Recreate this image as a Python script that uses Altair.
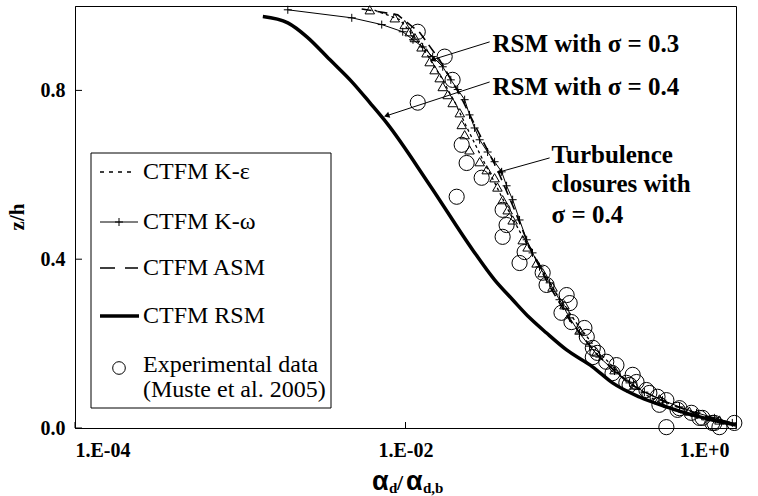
import altair as alt
import pandas as pd

# ---------------- data ----------------
# CTFM RSM (thick line)
rsm_x = [1.37e-3, 1.94e-3, 2.53e-3, 3.48e-3, 4.80e-3, 6.08e-3, 7.69e-3, 0.0140, 0.0255, 0.0346, 0.0445, 0.0564,
         0.0714, 0.0944, 0.1355, 0.179, 0.2606, 0.379, 0.544, 0.719, 1.0]
rsm_z = [0.975, 0.960, 0.927, 0.873, 0.818, 0.771, 0.723, 0.576, 0.422, 0.351, 0.304, 0.261,
         0.225, 0.185, 0.145, 0.107, 0.0735, 0.050, 0.031, 0.019, 0.007]

# CTFM K-omega (thin line with + markers)
kw_x = [1.94e-3, 4.73e-3, 7.18e-3, 9.62e-3, 0.0111, 0.0127, 0.0146, 0.0168, 0.0188, 0.0207, 0.0228, 0.0244,
        0.0262, 0.0281, 0.0314, 0.0346, 0.0382, 0.0409, 0.0445, 0.0490, 0.0541, 0.0587, 0.0647, 0.0745,
        0.0855, 0.0985, 0.113, 0.130, 0.149, 0.184, 0.227, 0.279, 0.359, 0.455, 0.577, 0.740, 0.95]
kw_z = [0.991, 0.972, 0.956, 0.939, 0.920, 0.903, 0.880, 0.856, 0.825, 0.802, 0.778, 0.742,
        0.711, 0.683, 0.654, 0.631, 0.607, 0.574, 0.541, 0.493, 0.446, 0.415, 0.382, 0.344,
        0.304, 0.261, 0.225, 0.194, 0.168, 0.135, 0.107, 0.085, 0.066, 0.050, 0.036, 0.024, 0.012]

# CTFM K-epsilon (dotted line)
ke_x = [6.5e-3, 9.2e-3, 0.0112, 0.0135, 0.0165, 0.0200, 0.0240, 0.0290, 0.0350, 0.0420, 0.0520, 0.0650,
        0.0830, 0.110, 0.148, 0.205, 0.290, 0.420, 0.620, 0.95]
ke_z = [0.990, 0.968, 0.930, 0.885, 0.830, 0.770, 0.705, 0.640, 0.578, 0.515, 0.448, 0.385,
        0.315, 0.245, 0.180, 0.122, 0.077, 0.042, 0.020, 0.008]

# CTFM ASM (dashed line)
asm_x = [5.43e-3, 8.97e-3, 0.0122, 0.0161, 0.0213, 0.0262, 0.0360, 0.0457, 0.0564, 0.0725, 0.0985, 0.145,
         0.227, 0.369, 0.601, 0.95]
asm_z = [0.993, 0.979, 0.937, 0.872, 0.790, 0.719, 0.612, 0.517, 0.427, 0.344, 0.256, 0.173,
         0.104, 0.062, 0.031, 0.012]

# triangles
tri_x = [6.08e-3, 8.61e-3, 9.89e-3, 0.0106, 0.0114, 0.0125, 0.0134, 0.0140, 0.0150, 0.0161, 0.0168, 0.0180,
         0.0193, 0.0213, 0.0219, 0.0228, 0.0244, 0.0281, 0.0310, 0.0346, 0.0360, 0.0387, 0.0415, 0.0445,
         0.0512, 0.0548, 0.0621, 0.0676, 0.0776, 0.0916, 0.113, 0.143, 0.184, 0.243, 0.344, 0.522, 0.794]
tri_z = [0.991, 0.972, 0.956, 0.939, 0.925, 0.903, 0.889, 0.868, 0.849, 0.830, 0.809, 0.790,
         0.771, 0.747, 0.719, 0.695, 0.659, 0.631, 0.612, 0.593, 0.571, 0.541, 0.517, 0.493,
         0.446, 0.429, 0.391, 0.368, 0.334, 0.292, 0.232, 0.180, 0.138, 0.102, 0.069, 0.040, 0.019]

# Experimental data (Muste et al. 2005)
exp_x = [0.01186, 0.01726, 0.01927, 0.01186, 0.02188, 0.02344, 0.0289, 0.0204, 0.0387, 0.0409, 0.0387,
         0.0526, 0.0490, 0.0676, 0.0714, 0.0944, 0.0985, 0.0879, 0.101, 0.121, 0.125, 0.136, 0.145,
         0.136, 0.164, 0.189, 0.179, 0.237, 0.250, 0.217, 0.287, 0.335, 0.379, 0.344, 0.455, 0.537,
         0.601, 0.719, 0.794, 0.977, 0.379, 0.299, 0.227, 0.443, 0.627, 0.740]
exp_z = [0.939, 0.880, 0.825, 0.771, 0.671, 0.628, 0.593, 0.548, 0.517, 0.481, 0.453,
         0.417, 0.391, 0.368, 0.339, 0.315, 0.296, 0.273, 0.251, 0.237, 0.216, 0.190, 0.178,
         0.168, 0.157, 0.149, 0.130, 0.126, 0.109, 0.107, 0.090, 0.074, 0.066, 0.055, 0.047, 0.036,
         0.024, 0.012, 0.002, 0.012, 0.002, 0.083, 0.102, 0.043, 0.024, 0.012]

x_tick_values = [1e-4, 1e-2, 1.0]
x_tick_labels = ["1.E-04", "1.E-02", "1.E+0"]
y_tick_values = [0.0, 0.4, 0.8]

legend_labels = ["CTFM K-\u03b5", "CTFM K-\u03c9", "CTFM ASM", "CTFM RSM", "Experimental data", "(Muste et al. 2005)"]

ann_texts = ["RSM with \u03c3 = 0.3", "RSM with \u03c3 = 0.4", "Turbulence", "closures with", "\u03c3 = 0.4"]
ann_x = [0.0336, 0.0336, 0.0766, 0.0766, 0.0766]
ann_z = [0.892, 0.790, 0.628, 0.560, 0.486]

arrow_x0 = [0.0323, 0.0323, 0.0745]
arrow_z0 = [0.915, 0.820, 0.640]
arrow_x1 = [0.0146, 7.69e-3, 0.0372]
arrow_z1 = [0.873, 0.740, 0.607]
arrow_angle = [252, 251, 253]

# ---------------- chart ----------------
W, H = 661, 422
SERIF = "Liberation Serif"
SANS = "Liberation Sans"
xs = alt.Scale(type="log", domain=[1e-4, 1.0])
ys = alt.Scale(domain=[0, 1], nice=False, zero=False)

expr = ""
for v, lab in zip(x_tick_values, x_tick_labels):
    expr += f"abs(datum.value - {v}) < {v * 0.01} ? '{lab}' : "
expr += "''"

xaxis = alt.Axis(values=x_tick_values, labelExpr=expr, ticks=False, tickSize=0, grid=False, title=None,
                 labelFont=SERIF, labelFontWeight="bold", labelFontSize=20, labelColor="black",
                 labelPadding=12, labelOverlap=False, domainColor="black",
                 labelOffset={"condition": {"test": "datum.value > 0.5", "value": -7}, "value": 0})
yaxis = alt.Axis(values=y_tick_values, format=".1f", ticks=False, tickSize=0, grid=False, title=None,
                 labelFont=SERIF, labelFontWeight="bold", labelFontSize=20, labelColor="black",
                 labelPadding=10, labelOverlap=False, domainColor="black")

X = alt.X("x:Q", scale=xs, axis=xaxis)
Y = alt.Y("z:Q", scale=ys, axis=yaxis)


def frame(xv, zv):
    return pd.DataFrame({"x": xv, "z": zv, "i": list(range(len(xv)))})


rsm = alt.Chart(frame(rsm_x, rsm_z)).mark_line(color="black", strokeWidth=3.5, interpolate="monotone").encode(
    X, Y, order="i:Q")
ke = alt.Chart(frame(ke_x, ke_z)).mark_line(color="black", strokeWidth=1.3, strokeDash=[3, 3]).encode(X, Y, order="i:Q")
asm = alt.Chart(frame(asm_x, asm_z)).mark_line(color="black", strokeWidth=1.6, strokeDash=[10, 6]).encode(X, Y, order="i:Q")
kw_line = alt.Chart(frame(kw_x, kw_z)).mark_line(color="black", strokeWidth=1).encode(X, Y, order="i:Q")
kw_pts = alt.Chart(frame(kw_x, kw_z)).mark_point(shape="M-1,0H1M0,-1V1", size=64, filled=False,
                                                 color="black", strokeWidth=1, opacity=1).encode(X, Y)
tri = alt.Chart(frame(tri_x, tri_z)).mark_point(shape="triangle-up", size=90, filled=False,
                                               color="black", strokeWidth=1, opacity=1).encode(X, Y)
exp = alt.Chart(frame(exp_x, exp_z)).mark_point(shape="circle", size=230, filled=False,
                                               color="black", strokeWidth=1, opacity=1).encode(X, Y)

# inward tick marks
xt = alt.Chart(pd.DataFrame({"x": x_tick_values})).mark_rule(color="black", strokeWidth=1).encode(
    x=alt.X("x:Q", scale=xs), y=alt.value(H - 6), y2=alt.value(H))
yt = alt.Chart(pd.DataFrame({"z": y_tick_values})).mark_rule(color="black", strokeWidth=1).encode(
    y=alt.Y("z:Q", scale=ys), x=alt.value(0), x2=alt.value(7))

# annotations
ann = alt.Chart(pd.DataFrame({"x": ann_x, "z": ann_z, "t": ann_texts})).mark_text(
    align="left", baseline="alphabetic", font=SERIF, fontWeight="bold", fontSize=25, color="black").encode(
    x=alt.X("x:Q", scale=xs), y=alt.Y("z:Q", scale=ys), text="t:N")
arr_df = pd.DataFrame({"x0": arrow_x0, "z0": arrow_z0, "x1": arrow_x1, "z1": arrow_z1, "a": arrow_angle})
arr_lines = alt.Chart(arr_df).mark_rule(color="black", strokeWidth=1).encode(
    x=alt.X("x0:Q", scale=xs), y=alt.Y("z0:Q", scale=ys), x2="x1:Q", y2="z1:Q")
arr_heads = alt.Chart(arr_df).mark_point(shape="triangle-up", filled=True, color="black", size=40, opacity=1).encode(
    x=alt.X("x1:Q", scale=xs), y=alt.Y("z1:Q", scale=ys), angle=alt.Angle("a:Q", scale=None))

# legend (pixel layout inside the plot)
one = pd.DataFrame({"a": [0]})
LX0, LX1, LY0, LY1 = 16, 256, 147, 402
row_y = [166, 216, 262, 310, 359, 384]
sx0, sx1, tx = 25, 63, 68
leg_box = alt.Chart(one).mark_rect(fill="white", stroke="black", strokeWidth=1).encode(
    x=alt.value(LX0), x2=alt.value(LX1), y=alt.value(LY0), y2=alt.value(LY1))
leg_ke = alt.Chart(one).mark_rule(color="black", strokeWidth=1.3, strokeDash=[4, 5]).encode(
    x=alt.value(sx0), x2=alt.value(sx0 + 33), y=alt.value(row_y[0]))
leg_kw = alt.Chart(one).mark_rule(color="black", strokeWidth=1).encode(
    x=alt.value(sx0), x2=alt.value(sx1), y=alt.value(row_y[1]))
leg_kw_p = alt.Chart(one).mark_point(shape="M-1,0H1M0,-1V1", size=64, filled=False, color="black",
                                     strokeWidth=1, opacity=1).encode(x=alt.value((sx0 + sx1) / 2), y=alt.value(row_y[1]))
leg_asm = alt.Chart(one).mark_rule(color="black", strokeWidth=1.6, strokeDash=[15, 10]).encode(
    x=alt.value(sx0), x2=alt.value(sx1), y=alt.value(row_y[2]))
leg_rsm = alt.Chart(one).mark_rule(color="black", strokeWidth=3.5).encode(
    x=alt.value(sx0), x2=alt.value(sx1 + 1), y=alt.value(row_y[3]))
leg_c = alt.Chart(one).mark_point(shape="circle", size=160, filled=False, color="black", strokeWidth=1,
                                  opacity=1).encode(x=alt.value(44), y=alt.value(362))
leg_txt = alt.Chart(pd.DataFrame({"t": legend_labels, "y": row_y})).mark_text(
    align="left", baseline="middle", font=SERIF, fontSize=24, color="black").encode(
    x=alt.value(tx), y=alt.Y("y:Q", scale=None), text="t:N")

# axis titles
ztitle = alt.Chart(one).mark_text(text="z/h", angle=270, font=SERIF, fontWeight="bold", fontSize=21,
                                  color="black", baseline="middle", align="center").encode(
    x=alt.value(-57), y=alt.value(H / 2))
alpha_parts = pd.DataFrame({"t": ["\u03b1", "\u03b1"], "px": [297, 331], "py": [484, 484]})
sub_parts = pd.DataFrame({"t": ["d", "/", "d,b"], "px": [314, 322, 348], "py": [487, 484, 487],
                          "fs": [15, 22, 15]})
xtitle_a = alt.Chart(alpha_parts).mark_text(align="left", baseline="alphabetic", fontWeight="bold",
                                            font=SANS, fontSize=27, color="black").encode(
    x=alt.X("px:Q", scale=None), y=alt.Y("py:Q", scale=None), text="t:N")
xtitle_s = alt.Chart(sub_parts).mark_text(align="left", baseline="alphabetic", fontWeight="bold",
                                          font=SERIF, color="black").encode(
    x=alt.X("px:Q", scale=None), y=alt.Y("py:Q", scale=None), text="t:N",
    size=alt.Size("fs:Q", scale=None, legend=None))

chart = alt.layer(
    rsm, ke, asm, kw_line, kw_pts, tri, exp, xt, yt,
    arr_lines, arr_heads, ann,
    leg_box, leg_ke, leg_kw, leg_kw_p, leg_asm, leg_rsm, leg_c, leg_txt,
    ztitle, xtitle_a, xtitle_s,
).properties(
    width=W, height=H,
    autosize=alt.AutoSizeParams(type="none"),
    padding={"left": 75, "top": 6, "right": 22, "bottom": 68},
    background="white",
).configure_view(stroke="black", strokeWidth=1)

chart.save("out.html", embed_options={"renderer": "svg", "actions": False})
